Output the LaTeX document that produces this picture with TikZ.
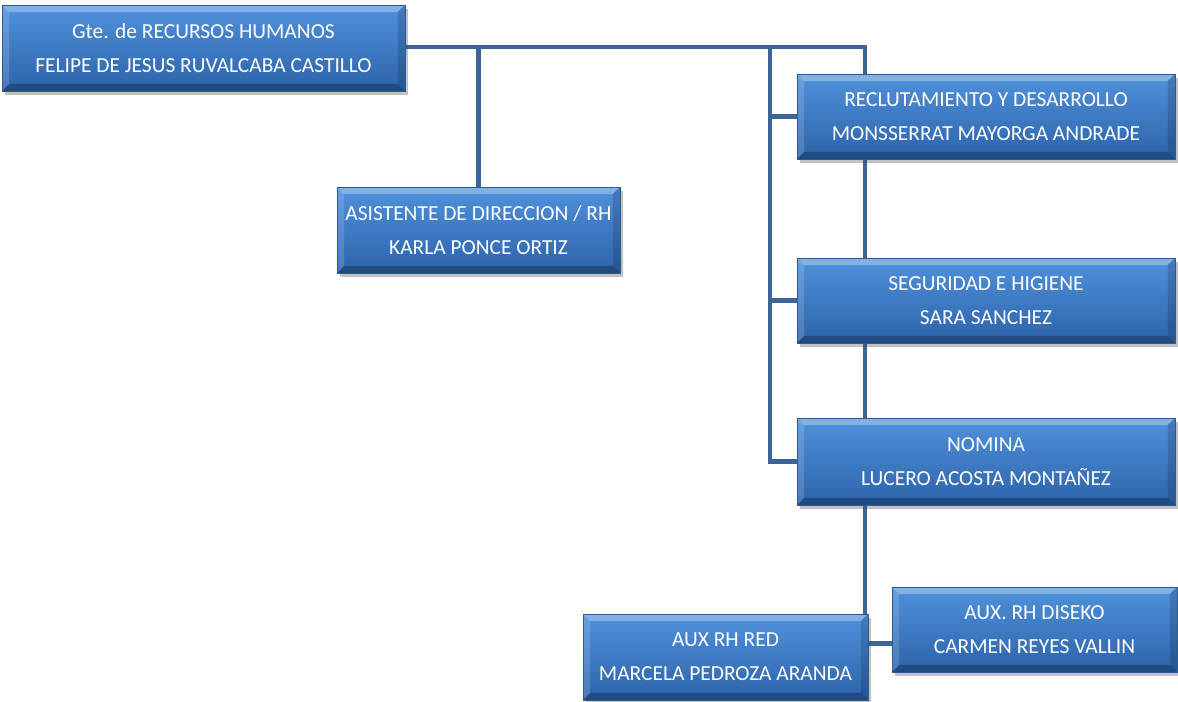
\documentclass[tikz,border=0pt]{standalone}
\usepackage{fontspec}
\setmainfont{Carlito}
\usepackage{tikz}
\usetikzlibrary{calc, shadows, backgrounds}

\definecolor{rhtop}{HTML}{5091DC}
\definecolor{rhbot}{HTML}{2C63AA}
\definecolor{rhedge}{HTML}{2A5A98}
\definecolor{rhline}{HTML}{3C6496}

\newcommand{\rhbevel}{%
  \fill[white,opacity=0.30] (path picture bounding box.north west) -- (path picture bounding box.north east)
    -- ([shift={(-4pt,-4pt)}]path picture bounding box.north east) -- ([shift={(4pt,-4pt)}]path picture bounding box.north west) -- cycle;
  \fill[white,opacity=0.15] (path picture bounding box.north west) -- ([shift={(4pt,-4pt)}]path picture bounding box.north west)
    -- ([shift={(4pt,4pt)}]path picture bounding box.south west) -- (path picture bounding box.south west) -- cycle;
  \fill[black,opacity=0.15] (path picture bounding box.north east) -- ([shift={(-4pt,-4pt)}]path picture bounding box.north east)
    -- ([shift={(-4pt,4pt)}]path picture bounding box.south east) -- (path picture bounding box.south east) -- cycle;
  \fill[black,opacity=0.25] (path picture bounding box.south west) -- ([shift={(4pt,4pt)}]path picture bounding box.south west)
    -- ([shift={(-4pt,4pt)}]path picture bounding box.south east) -- (path picture bounding box.south east) -- cycle;
}

\tikzset{
  rhbox/.style={rectangle, draw=rhedge, line width=0.5pt, top color=rhtop, bottom color=rhbot,
    text=white, align=center, inner sep=0pt, font=\fontsize{12.2}{19.3}\selectfont,
    drop shadow={shadow xshift=1.5pt, shadow yshift=-2pt, opacity=0.35, fill=black!70},
    path picture={\rhbevel}},
  rhline/.style={draw=rhline, line width=2.8pt}
}

\begin{document}
\begin{tikzpicture}[x=0.02cm, y=-0.02cm]
        \useasboundingbox (0,0) rectangle (1178,702);
        % boxes
        \node[rhbox, minimum width=8.06cm, minimum height=1.72cm] (gte) at (203.5,48)
            {Gte. de RECURSOS HUMANOS\\FELIPE DE JESUS RUVALCABA CASTILLO};
        \node[rhbox, minimum width=5.66cm, minimum height=1.72cm] (asis) at (478.5,230)
            {ASISTENTE DE DIRECCION / RH\\KARLA PONCE ORTIZ};
        \node[rhbox, minimum width=7.56cm, minimum height=1.70cm] (recl) at (986,116.5)
            {RECLUTAMIENTO\ Y DESARROLLO\\MONSSERRAT MAYORGA ANDRADE};
        \node[rhbox, minimum width=7.56cm, minimum height=1.70cm] (segu) at (986,300.5)
            {SEGURIDAD E HIGIENE\\SARA SANCHEZ};
        \node[rhbox, minimum width=7.56cm, minimum height=1.74cm] (nomi) at (986,461.5)
            {NOMINA\\LUCERO ACOSTA MONTAÑEZ};
        \node[rhbox, minimum width=5.70cm, minimum height=1.72cm] (redx) at (725.5,657)
            {AUX RH RED\\MARCELA PEDROZA ARANDA};
        \node[rhbox, minimum width=5.70cm, minimum height=1.70cm] (dise) at (1034.5,629.5)
            {AUX. RH DISEKO\\CARMEN REYES VALLIN};
        % connectors
        \coordinate (busr) at (865,47);
        \coordinate (busl) at (770,47);
        \path (redx.east) -- (dise.west) coordinate[midway] (rdmid);
        \begin{scope}[on background layer]
            \draw[rhline] (gte.east |- busr) -- (busr) -- (busr |- redx.north);
            \draw[rhline] (asis.north |- busr) -- (asis.north);
            \draw[rhline] (busl) |- (nomi.west);
            \draw[rhline] (busl |- recl.west) -- (recl.west);
            \draw[rhline] (busl |- segu.west) -- (segu.west);
            \draw[rhline] (redx.east |- rdmid) -- (dise.west |- rdmid);
        \end{scope}
    \end{tikzpicture}
\end{document}
